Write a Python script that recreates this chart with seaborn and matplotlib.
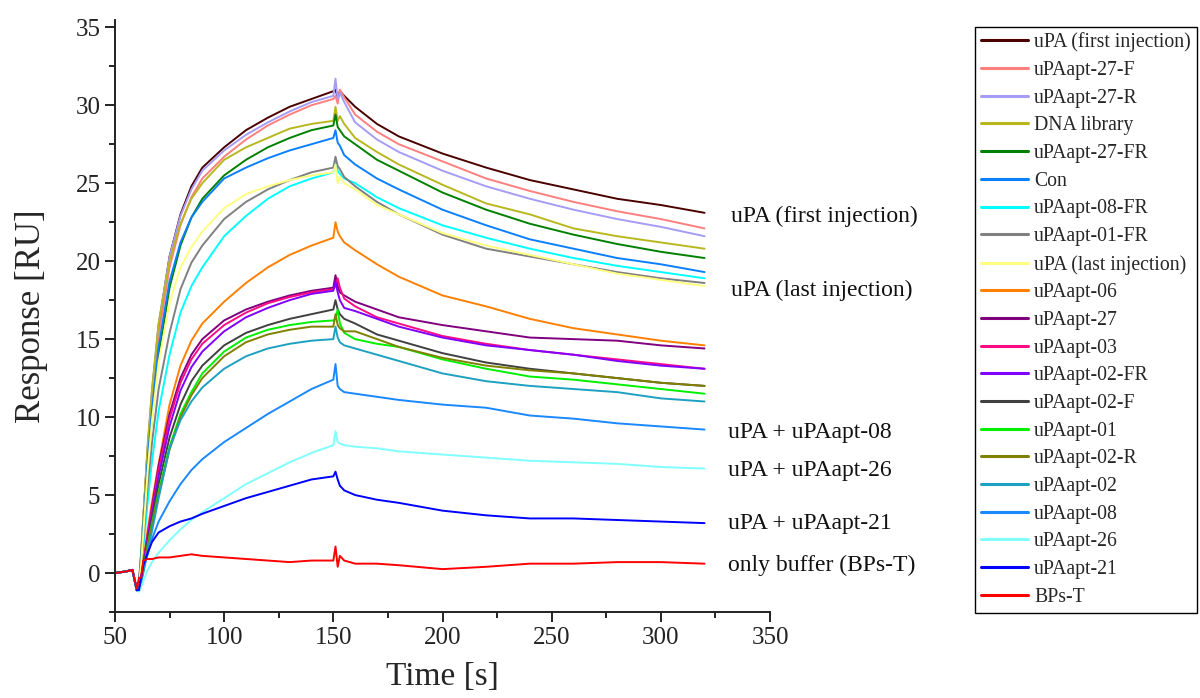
import matplotlib
matplotlib.use("Agg")
import matplotlib.pyplot as plt
from matplotlib.ticker import MultipleLocator
import seaborn as sns
import pandas as pd

# --- data (time in s, response in RU) ---
time_s = [50, 55, 58, 60, 61, 62, 63, 65, 67, 70, 75, 80, 85, 90, 100, 110, 120, 130, 140, 150,
          151, 152, 153, 155, 160, 170, 180, 200, 220, 240, 260, 280, 300, 320]

upa_first = [0.0, 0.1, 0.2, -1.1, -0.6, 1.2, 3.5, 8.0, 11.5, 15.8, 20.3, 23.0, 24.8, 26.0, 27.3, 28.4, 29.2, 29.9, 30.4, 30.9,
             31.0, 30.5, 30.9, 30.6, 29.9, 28.8, 28.0, 26.9, 26.0, 25.2, 24.6, 24.0, 23.6, 23.1]
apt27_f = [0.0, 0.1, 0.2, -1.1, -0.7, 1.0, 3.2, 7.6, 11.0, 15.2, 19.6, 22.3, 24.1, 25.3, 26.7, 27.8, 28.7, 29.4, 30.0, 30.4,
           30.6, 30.1, 31.0, 30.5, 29.4, 28.3, 27.5, 26.4, 25.3, 24.5, 23.8, 23.2, 22.7, 22.1]
apt27_r = [0.0, 0.1, 0.2, -1.1, -0.6, 1.3, 3.6, 8.2, 11.8, 16.0, 20.3, 22.9, 24.6, 25.8, 27.1, 28.1, 28.9, 29.6, 30.2, 30.6,
           31.7, 30.4, 30.8, 30.2, 28.9, 27.8, 27.0, 25.8, 24.8, 24.0, 23.3, 22.7, 22.2, 21.6]
dna_lib = [0.0, 0.1, 0.2, -1.1, -0.6, 1.3, 3.6, 8.2, 11.8, 16.0, 20.0, 22.4, 24.0, 25.0, 26.5, 27.3, 27.9, 28.5, 28.8, 29.0,
           29.9, 29.0, 29.3, 28.8, 27.9, 27.0, 26.2, 24.9, 23.7, 23.0, 22.1, 21.6, 21.2, 20.8]
apt27_fr = [0.0, 0.1, 0.2, -1.1, -0.8, 0.8, 2.8, 6.8, 10.0, 14.0, 18.3, 21.0, 22.8, 24.0, 25.5, 26.5, 27.3, 27.9, 28.4, 28.7,
            29.4, 28.6, 28.4, 28.0, 27.5, 26.5, 25.8, 24.4, 23.3, 22.4, 21.7, 21.1, 20.6, 20.2]
con = [0.0, 0.1, 0.2, -1.1, -0.7, 1.0, 3.0, 7.2, 10.5, 14.5, 18.7, 21.2, 22.8, 23.8, 25.3, 26.0, 26.6, 27.1, 27.5, 27.9,
       28.4, 27.6, 27.4, 26.8, 26.2, 25.3, 24.6, 23.3, 22.3, 21.4, 20.8, 20.2, 19.8, 19.3]
apt08_fr = [0.0, 0.1, 0.2, -1.1, -0.9, 0.2, 1.6, 4.6, 7.2, 10.4, 14.0, 16.7, 18.4, 19.6, 21.6, 22.9, 24.0, 24.8, 25.3, 25.7,
            26.4, 25.8, 25.6, 25.3, 25.0, 24.1, 23.4, 22.3, 21.5, 20.8, 20.2, 19.7, 19.3, 18.9]
apt01_fr = [0.0, 0.1, 0.2, -1.1, -0.8, 0.5, 2.2, 5.6, 8.4, 11.8, 15.4, 18.2, 19.9, 21.0, 22.7, 23.8, 24.6, 25.2, 25.7, 26.0,
            26.7, 26.1, 25.9, 25.4, 24.8, 23.8, 23.0, 21.7, 20.8, 20.3, 19.8, 19.3, 18.9, 18.6]
upa_last = [0.0, 0.1, 0.2, -1.1, -0.8, 0.6, 2.6, 6.6, 9.8, 13.5, 17.3, 19.6, 20.9, 21.9, 23.4, 24.3, 24.8, 25.2, 25.5, 25.7,
            26.2, 25.0, 25.4, 25.0, 24.6, 23.6, 23.0, 21.8, 21.0, 20.4, 19.8, 19.2, 18.8, 18.4]
apt06 = [0.0, 0.1, 0.2, -1.1, -0.9, -0.2, 0.8, 2.8, 4.6, 7.0, 10.8, 13.3, 14.9, 16.0, 17.4, 18.6, 19.6, 20.4, 21.0, 21.5,
         22.5, 21.9, 21.6, 21.2, 20.7, 19.8, 19.0, 17.8, 17.1, 16.3, 15.7, 15.3, 14.9, 14.6]
apt27 = [0.0, 0.1, 0.2, -1.1, -0.9, -0.3, 0.6, 2.5, 4.3, 6.9, 10.2, 12.5, 14.0, 15.0, 16.2, 16.9, 17.4, 17.8, 18.1, 18.3,
         19.1, 18.4, 18.0, 17.8, 17.4, 16.9, 16.4, 15.9, 15.5, 15.1, 15.0, 14.9, 14.6, 14.4]
apt03 = [0.0, 0.1, 0.2, -1.1, -0.9, -0.3, 0.6, 2.4, 4.1, 6.6, 9.9, 12.2, 13.7, 14.7, 15.9, 16.7, 17.3, 17.7, 18.0, 18.2,
         18.4, 18.9, 18.3, 17.6, 17.1, 16.4, 16.0, 15.2, 14.7, 14.3, 14.0, 13.7, 13.4, 13.1]
apt02_fr = [0.0, 0.1, 0.2, -1.1, -1.0, -0.4, 0.4, 2.2, 3.8, 6.2, 9.4, 11.7, 13.2, 14.2, 15.5, 16.4, 17.0, 17.5, 17.9, 18.1,
            18.7, 18.0, 17.5, 17.0, 16.8, 16.3, 15.8, 15.1, 14.6, 14.3, 14.0, 13.6, 13.3, 13.1]
apt02_f = [0.0, 0.1, 0.2, -1.1, -1.0, -0.5, 0.3, 2.0, 3.5, 5.7, 8.7, 10.8, 12.3, 13.3, 14.6, 15.4, 15.9, 16.3, 16.6, 16.9,
           17.5, 16.9, 16.6, 16.3, 16.0, 15.3, 14.9, 14.1, 13.5, 13.1, 12.8, 12.5, 12.2, 12.0]
apt01 = [0.0, 0.1, 0.2, -1.1, -1.0, -0.5, 0.2, 1.8, 3.2, 5.2, 8.1, 10.2, 11.6, 12.8, 14.2, 15.1, 15.6, 15.9, 16.1, 16.2,
         16.3, 16.9, 16.0, 15.4, 15.0, 14.7, 14.5, 13.7, 13.1, 12.6, 12.4, 12.1, 11.8, 11.5]
apt02_r = [0.0, 0.1, 0.2, -1.1, -1.0, -0.5, 0.2, 1.7, 3.1, 5.0, 7.9, 10.0, 11.4, 12.5, 13.9, 14.8, 15.3, 15.6, 15.8, 15.8,
           16.6, 15.9, 15.7, 15.5, 15.5, 15.0, 14.5, 13.8, 13.3, 13.0, 12.8, 12.5, 12.2, 12.0]
apt02 = [0.0, 0.1, 0.2, -1.1, -1.1, -0.6, 0.0, 1.4, 2.7, 4.8, 8.0, 9.8, 11.0, 11.9, 13.1, 13.9, 14.4, 14.7, 14.9, 15.0,
         15.8, 15.1, 14.8, 14.6, 14.4, 14.0, 13.6, 12.8, 12.3, 12.0, 11.8, 11.6, 11.2, 11.0]
apt08 = [0.0, 0.1, 0.2, -1.1, -1.1, -0.4, 0.3, 1.2, 2.2, 3.3, 4.6, 5.7, 6.6, 7.3, 8.4, 9.3, 10.2, 11.0, 11.8, 12.4,
         13.4, 12.0, 11.8, 11.6, 11.5, 11.3, 11.1, 10.8, 10.6, 10.1, 9.9, 9.6, 9.4, 9.2]
apt26 = [0.0, 0.1, 0.2, -1.1, -1.2, -0.9, -0.5, 0.2, 0.7, 1.3, 2.1, 2.8, 3.4, 3.9, 4.8, 5.7, 6.4, 7.1, 7.7, 8.2,
         9.1, 8.4, 8.3, 8.2, 8.1, 8.0, 7.8, 7.6, 7.4, 7.2, 7.1, 7.0, 6.8, 6.7]
apt21 = [0.0, 0.1, 0.2, -1.1, -1.1, -0.3, 0.5, 1.3, 2.0, 2.6, 3.0, 3.3, 3.5, 3.8, 4.3, 4.8, 5.2, 5.6, 6.0, 6.2,
         6.5, 6.0, 5.6, 5.3, 5.0, 4.7, 4.5, 4.0, 3.7, 3.5, 3.5, 3.4, 3.3, 3.2]
bps_t = [0.0, 0.1, 0.2, -1.0, -0.3, -0.3, 0.8, 0.9, 0.9, 1.0, 1.0, 1.1, 1.2, 1.1, 1.0, 0.9, 0.8, 0.7, 0.8, 0.8,
         1.7, 0.4, 1.1, 0.8, 0.6, 0.6, 0.5, 0.25, 0.4, 0.6, 0.6, 0.7, 0.7, 0.6]

sample_names = ["uPA (first injection)", "uPAapt-27-F", "uPAapt-27-R", "DNA library", "uPAapt-27-FR",
                "Con", "uPAapt-08-FR", "uPAapt-01-FR", "uPA (last injection)", "uPAapt-06",
                "uPAapt-27", "uPAapt-03", "uPAapt-02-FR", "uPAapt-02-F", "uPAapt-01",
                "uPAapt-02-R", "uPAapt-02", "uPAapt-08", "uPAapt-26", "uPAapt-21", "BPs-T"]
sample_values = [upa_first, apt27_f, apt27_r, dna_lib, apt27_fr, con, apt08_fr, apt01_fr, upa_last, apt06,
                 apt27, apt03, apt02_fr, apt02_f, apt01, apt02_r, apt02, apt08, apt26, apt21, bps_t]
line_colors = ["#4B0000", "#FF7F7F", "#A59CF5", "#B8B81E", "#008000",
               "#0A80FF", "#00FFFF", "#808080", "#FFFF80", "#FF8000",
               "#800080", "#FF0A85", "#8000FF", "#404040", "#00F000",
               "#808000", "#1EA0C0", "#1A88FF", "#80FFFF", "#0000FF", "#FF0000"]

# annotations to the right of the curves
note_texts = ["uPA (first injection)", "uPA (last injection)", "uPA + uPAapt-08",
              "uPA + uPAapt-26", "uPA + uPAapt-21", "only buffer (BPs-T)"]
note_x = [332.0, 332.0, 330.8, 330.8, 330.8, 330.8]
note_y = [22.9, 18.1, 9.0, 6.6, 3.2, 0.5]

# long-form table for seaborn
rows = []
for name, vals in zip(sample_names, sample_values):
    for t, v in zip(time_s, vals):
        rows.append({"Time": t, "Response": v, "Sample": name})
df = pd.DataFrame(rows)

sns.set_theme(style="ticks")
plt.rcParams["font.family"] = ["Liberation Serif", "DejaVu Serif"]
plt.rcParams["axes.linewidth"] = 1.4

fig = plt.figure(figsize=(12, 6.98), dpi=100)
ax = fig.add_axes([0.0958, 0.1232, 0.5459, 0.8478])

sns.lineplot(data=df, x="Time", y="Response", hue="Sample", hue_order=sample_names,
             palette=dict(zip(sample_names, line_colors)), estimator=None, linewidth=1.4, ax=ax)

handles, labels = ax.get_legend_handles_labels()
ax.get_legend().remove()
for h in handles:
    h.set_linewidth(2.2)
leg = fig.legend(handles, labels, loc="upper left", bbox_to_anchor=(0.8125, 0.962),
                 fontsize=14.2, frameon=True, fancybox=False, edgecolor="black", framealpha=1,
                 handlelength=2.4, handletextpad=0.3, labelspacing=0.44, borderpad=0.3,
                 borderaxespad=0.0)
leg.get_frame().set_linewidth(1.0)

for txt, x, y in zip(note_texts, note_x, note_y):
    ax.text(x, y, txt, fontsize=17, ha="left", va="center", color="#111111")

ax.set_xlim(50, 350)
ax.set_ylim(-2.5, 35.45)
ax.xaxis.set_major_locator(MultipleLocator(50))
ax.xaxis.set_minor_locator(MultipleLocator(25))
ax.yaxis.set_major_locator(MultipleLocator(5))
ax.yaxis.set_minor_locator(MultipleLocator(2.5))
ax.tick_params(which="major", direction="out", length=7, width=1.4, labelsize=18, colors="#222222")
ax.tick_params(which="minor", direction="out", length=4, width=1.4, colors="#222222")
ax.set_xlabel("Time [s]", fontsize=24, labelpad=9)
ax.set_ylabel("Response [RU]", fontsize=25, labelpad=20)
sns.despine(ax=ax)
for s in ["left", "bottom"]:
    ax.spines[s].set_color("#222222")

fig.savefig("out.png", dpi=100)
